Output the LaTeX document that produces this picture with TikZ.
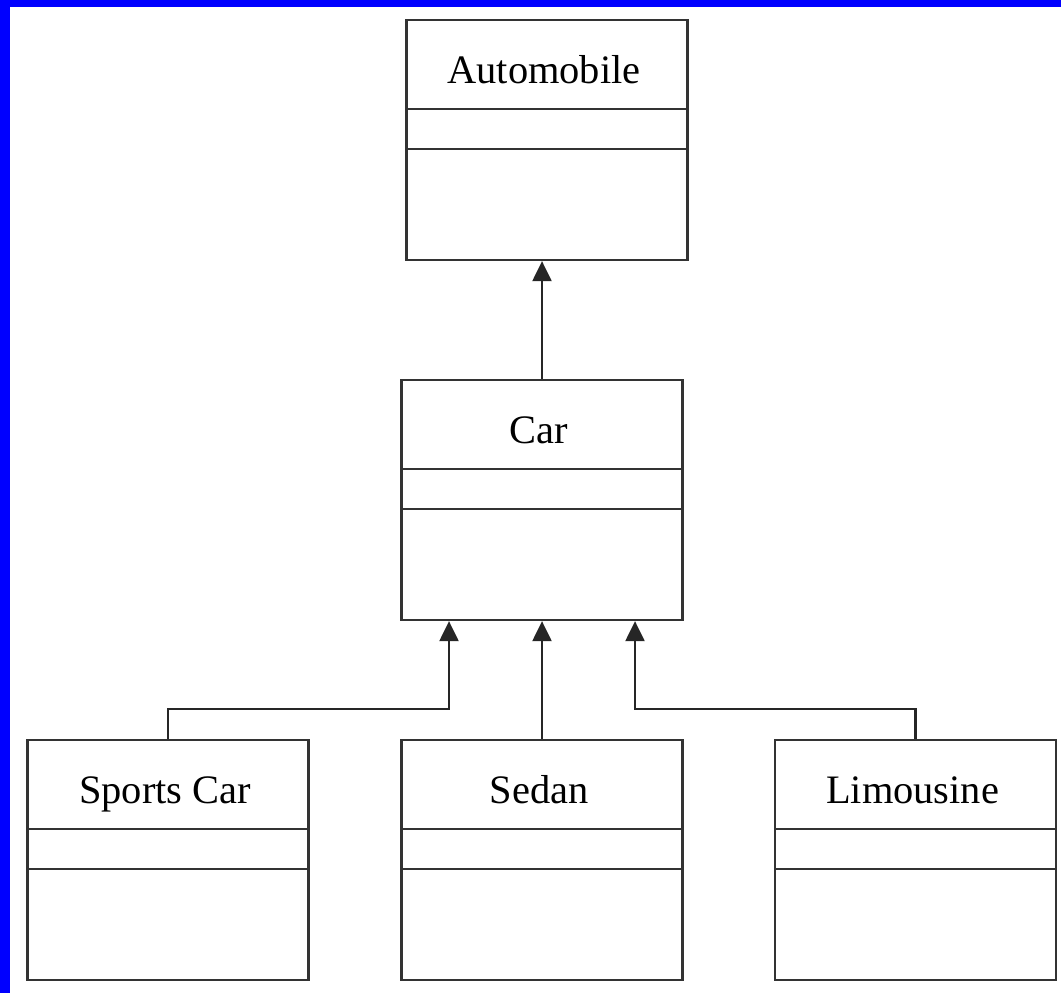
\documentclass[tikz,border=0pt]{standalone}
\usepackage{fontspec}
\setmainfont{Liberation Serif}
\usetikzlibrary{calc,arrows.meta}
\tikzset{
	classbox/.style={draw=black!80, line width=1.3pt, rectangle, minimum width=5.62cm, minimum height=4.8cm, inner sep=0pt},
	classname/.style={anchor=base, font=\fontsize{23}{27}\selectfont},
	inherit/.style={draw=black!85, line width=1.3pt, -{Triangle[length=0.4cm,width=0.38cm]}}
}
% class box: name, centre, title
\def\umlclass(#1)(#2,#3)#4{%
	\node[classbox] (#1) at (#2,#3) {};
	\node[classname] (#1-name) at ($(#1.north)+(-0.06,-1.3)$) {#4};
	\draw[black!80, line width=1.3pt] ($(#1.north west)+(0,-1.8)$) -- ($(#1.north east)+(0,-1.8)$);
	\draw[black!80, line width=1.3pt] ($(#1.north west)+(0,-2.6)$) -- ($(#1.north east)+(0,-2.6)$);
}

\begin{document}
\begin{tikzpicture}
		%%%%% START %%%%%
		
		\useasboundingbox (0, 0) rectangle (21.22, -19.86);
		\fill[blue] (0, 0) rectangle (21.22, -0.14);
		\fill[blue] (0, 0) rectangle (0.2, -19.86);
		
		\umlclass(auto)(10.94,-2.8){Automobile}
		\umlclass(car)(10.84,-10.0){Car}
		\umlclass(sports)(3.36,-17.2){Sports Car}
		\umlclass(sedan)(10.84,-17.2){Sedan}
		\umlclass(limo)(18.31,-17.2){Limousine}
		
		\coordinate (car-left) at ($(car.south)+(-1.86,0)$);
		\coordinate (car-right) at ($(car.south)+(1.86,0)$);
		
		\draw[inherit] (car.north) -- (car.north |- auto.south);
		\draw[inherit] (sports.north) -- ++(0, 0.6) -| (car-left);
		\draw[inherit] (sedan.north) -- (car.south);
		\draw[inherit] (limo.north) -- ++(0, 0.6) -| (car-right);
		
		%%%%% END %%%%%
	\end{tikzpicture}
\end{document}
